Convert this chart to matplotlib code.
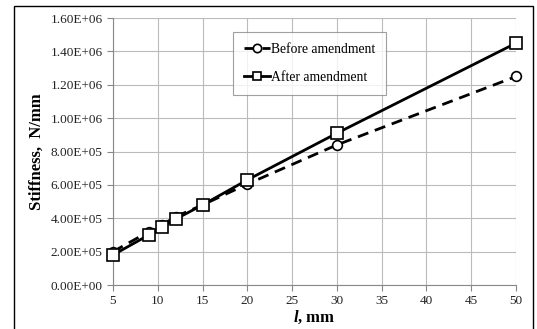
import matplotlib
matplotlib.use('Agg')

import matplotlib.pyplot as plt
from matplotlib.patches import Rectangle
from matplotlib.ticker import FuncFormatter

plt.rcParams['font.family'] = ['Liberation Serif', 'DejaVu Serif']
plt.rcParams['mathtext.fontset'] = 'custom'
plt.rcParams['mathtext.rm'] = 'Liberation Serif'
plt.rcParams['mathtext.it'] = 'Liberation Serif:italic'
plt.rcParams['mathtext.bf'] = 'Liberation Serif:bold'
plt.rcParams['mathtext.bfit'] = 'Liberation Serif:italic:bold'

# 数据
length_mm = [5, 9, 10.5, 12, 15, 20, 30, 50]
before_amend = [2.0e5, 3.2e5, 3.6e5, 4.1e5, 4.8e5, 6.05e5, 8.4e5, 1.25e6]
after_amend = [1.8e5, 3.0e5, 3.5e5, 3.95e5, 4.8e5, 6.3e5, 9.1e5, 1.45e6]
x_ticks = [5, 10, 15, 20, 25, 30, 35, 40, 45, 50]
y_ticks = [0, 2e5, 4e5, 6e5, 8e5, 1.0e6, 1.2e6, 1.4e6, 1.6e6]

fig = plt.figure(figsize=(5.37, 3.29), dpi=100)
ax = fig.add_axes([0.2104, 0.1337, 0.7506, 0.8113])

ax.plot(length_mm, before_amend, color='black', linestyle=(0, (4, 2.5)), linewidth=2,
        marker='o', markersize=7, markerfacecolor='white', markeredgecolor='black',
        markeredgewidth=1.2, label='Before amendment', zorder=3, clip_on=False)
ax.plot(length_mm, after_amend, color='black', linestyle='-', linewidth=2,
        marker='s', markersize=8, markerfacecolor='white', markeredgecolor='black',
        markeredgewidth=1.2, label='After amendment', zorder=4, clip_on=False)

ax.set_xlim(5, 50)
ax.set_ylim(0, 1.6e6)
ax.set_xticks(x_ticks)
ax.set_yticks(y_ticks)
ax.yaxis.set_major_formatter(FuncFormatter(lambda v, p: f'{v:.2E}'))
ax.tick_params(axis='both', labelsize=9.5, length=4, color='#888888', direction='out',
               labelcolor='#222222')
ax.grid(True, color='#bbbbbb', linewidth=0.8)
ax.set_axisbelow(True)
ax.spines['top'].set_visible(False)
ax.spines['right'].set_visible(False)
ax.spines['left'].set_color('#888888')
ax.spines['bottom'].set_color('#888888')

ax.set_ylabel('Stiffness,  N/mm', fontsize=12, fontweight='bold', labelpad=4)
ax.set_xlabel(r'$\mathbfit{l}$, mm', fontsize=12, fontweight='bold', labelpad=1)

leg = ax.legend(loc='upper left', bbox_to_anchor=(0.298, 0.948), fontsize=9.8,
                frameon=True, fancybox=False, edgecolor='#888888', handlelength=1.9,
                handletextpad=0.1, borderpad=0.8, labelspacing=1.1, borderaxespad=0)
leg.get_frame().set_linewidth(0.8)
for h in leg.legend_handles:
    h.set_markersize(6)

# 外框
fig.patches.append(Rectangle((14 / 537, -0.01), 519 / 537, 1 - 6 / 329 + 0.01,
                             transform=fig.transFigure, fill=False,
                             edgecolor='black', linewidth=1.0))

plt.savefig('out.png', dpi=100)
plt.close()
